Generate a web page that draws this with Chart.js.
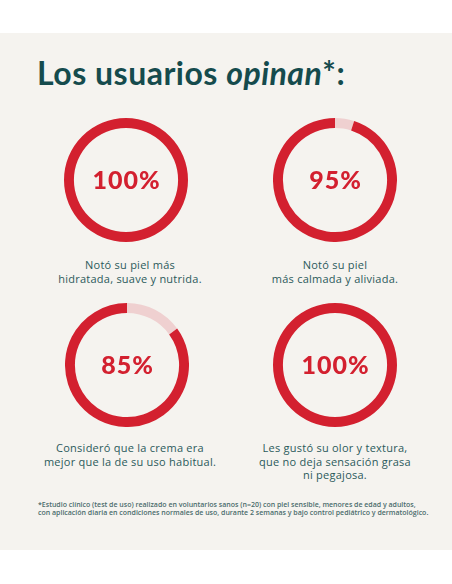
<!DOCTYPE html>
<html>
<head>
<meta charset="utf-8">
<script src="https://cdn.jsdelivr.net/npm/chart.js@4"></script>
<style>
  html, body { margin: 0; padding: 0; background: #ffffff; }
  body { width: 452px; height: 584px; position: relative; overflow: hidden; }
  #panel { position: absolute; left: 0; top: 33px; width: 452px; height: 517px; background: #f5f3ef; }
  #title {
    position: absolute; left: 37px; top: 53px;
    font-family: "Lato", sans-serif; font-weight: 700; font-size: 32px;
    color: #154b4d; white-space: nowrap; letter-spacing: 0.5px;
  }
  #title em { font-style: italic; }
  .donut { position: absolute; }
  .caption {
    position: absolute; width: 220px; text-align: center;
    font-family: "Open Sans", sans-serif; font-weight: 500; font-size: 11px;
    letter-spacing: 0.25px; line-height: 13.5px; color: #2b5a5b;
  }
  #note {
    position: absolute; left: 38px; top: 501px; width: 400px;
    font-family: "Open Sans", sans-serif; font-weight: 600; font-size: 7px; line-height: 8.3px;
    color: #4b6c6c; white-space: nowrap;
  }
</style>
</head>
<body>
<div id="panel"></div>
<div id="title">Los usuarios <em>opinan</em>*:</div>
<div id="grid"></div>
<div id="note">*Estudio clínico (test de uso) realizado en voluntarios sanos (n=20) con piel sensible, menores de edad y adultos,<br>con aplicación diaria en condiciones normales de uso, durante 2 semanas y bajo control pediátrico y dermatológico.</div>

<script>
// ---------------------------------------------
// Data
// ---------------------------------------------

const percentages = [100, 95, 85, 100];
const centerLabels = ["100%", "95%", "85%", "100%"];
const captions = [
  ["Notó su piel más", "hidratada, suave y nutrida."],
  ["Notó su piel", "más calmada y aliviada."],
  ["Consideró que la crema era", "mejor que la de su uso habitual."],
  ["Les gustó su olor y textura,", "que no deja sensación grasa", "ni pegajosa."]
];

// ---------------------------------------------
// Layout
// ---------------------------------------------

const centers = [[126, 180], [335, 180], [127, 365], [335, 365]];
const captionX = [130, 335, 130, 335];
const captionTops = [258, 258, 441, 441];
const SIZE = 124;

const RED = "#d3202f";
const PINK = "#efd0d0";

// center text plugin
const centerText = {
  id: "centerText",
  afterDraw(chart) {
    const { ctx, chartArea } = chart;
    const x = (chartArea.left + chartArea.right) / 2;
    const y = (chartArea.top + chartArea.bottom) / 2;
    ctx.save();
    ctx.font = "900 25px Lato, sans-serif";
    ctx.letterSpacing = "1px";
    ctx.fillStyle = RED;
    ctx.textAlign = "center";
    ctx.textBaseline = "middle";
    ctx.fillText(chart.options.plugins.centerText.text, x + 0.5, y + 1);
    ctx.restore();
  }
};

function buildDonut(i) {
  const [cx, cy] = centers[i];
  const canvas = document.createElement("canvas");
  canvas.className = "donut";
  canvas.width = SIZE;
  canvas.height = SIZE;
  canvas.style.left = (cx - SIZE / 2) + "px";
  canvas.style.top = (cy - SIZE / 2) + "px";
  document.getElementById("grid").appendChild(canvas);

  const value = percentages[i];

  new Chart(canvas, {
    type: "doughnut",
    data: {
      labels: ["Resto", "Sí"],
      datasets: [{
        data: [100 - value, value],
        backgroundColor: [PINK, RED],
        borderWidth: 0
      }]
    },
    options: {
      responsive: false,
      animation: false,
      cutout: "84%",
      plugins: {
        legend: { display: false },
        tooltip: { enabled: false },
        centerText: { text: centerLabels[i] }
      }
    },
    plugins: [centerText]
  });

  const cap = document.createElement("div");
  cap.className = "caption";
  cap.style.left = (captionX[i] - 110) + "px";
  cap.style.top = captionTops[i] + "px";
  cap.innerHTML = captions[i].join("<br>");
  document.body.appendChild(cap);
}

percentages.forEach((_, i) => buildDonut(i));
</script>
</body>
</html>
